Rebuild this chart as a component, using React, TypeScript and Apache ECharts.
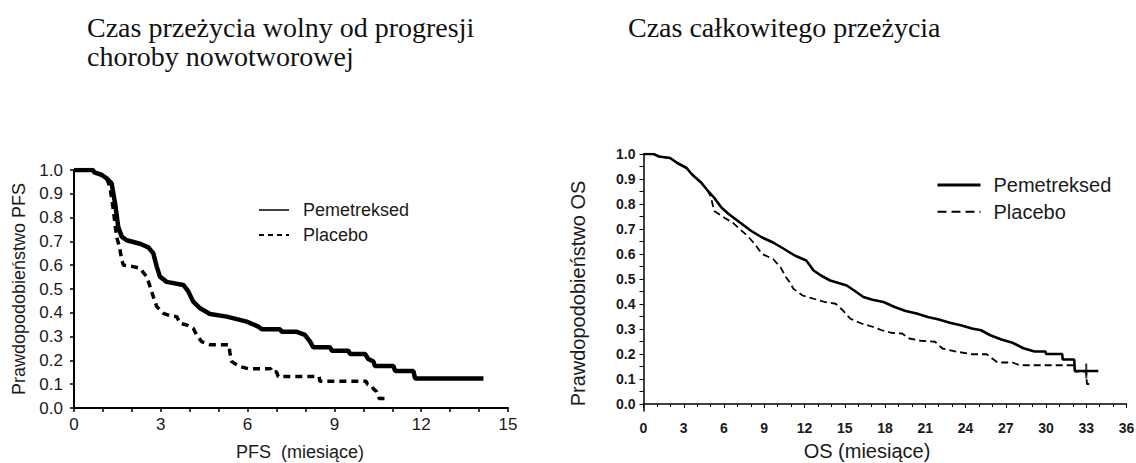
import React, { useEffect, useRef } from "react";
import * as echarts from "echarts";

// ---------- texts ----------
const pfsTitle = "Czas przeżycia wolny od progresji\nchoroby nowotworowej";
const osTitle = "Czas całkowitego przeżycia";
const pfsXName = "PFS  (miesiące)";
const osXName = "OS (miesiące)";
const pfsYName = "Prawdopodobieństwo PFS";
const osYName = "Prawdopodobieństwo OS";
const armNames = ["Pemetreksed", "Placebo"];

// ---------- tick values ----------
const probLabelValues = [0, 0.1, 0.2, 0.3, 0.4, 0.5, 0.6, 0.7, 0.8, 0.9, 1.0];
const probTickValues = [
  0, 0.05, 0.1, 0.15, 0.2, 0.25, 0.3, 0.35, 0.4, 0.45, 0.5, 0.55, 0.6, 0.65, 0.7, 0.75, 0.8,
  0.85, 0.9, 0.95, 1.0,
];

// ---------- PFS (months, probability) ----------
const pfsPemetreksed: [number, number][] = [
  [0, 1.0], [0.65, 1.0], [0.7, 0.99], [0.95, 0.98], [1.13, 0.965], [1.3, 0.944],
  [1.42, 0.86], [1.53, 0.76], [1.65, 0.72], [1.82, 0.705], [2.28, 0.69], [2.57, 0.675],
  [2.74, 0.65], [2.86, 0.594], [2.97, 0.552], [3.2, 0.53], [3.78, 0.517], [3.95, 0.49],
  [4.12, 0.447], [4.36, 0.419], [4.7, 0.395], [5.28, 0.384], [5.97, 0.363], [6.37, 0.342],
  [6.49, 0.331], [7.12, 0.331], [7.18, 0.32], [7.7, 0.32], [7.98, 0.307], [8.16, 0.279],
  [8.27, 0.255], [8.85, 0.255], [8.91, 0.241], [9.48, 0.241], [9.54, 0.227], [10.06, 0.227],
  [10.17, 0.206], [10.35, 0.195], [10.4, 0.176], [11.04, 0.176], [11.1, 0.155], [11.73, 0.155],
  [11.79, 0.124], [14.15, 0.124],
];

const pfsPlacebo: [number, number][] = [
  [0, 1.0], [0.65, 1.0], [0.7, 0.99], [0.95, 0.98], [1.13, 0.965], [1.24, 0.93],
  [1.36, 0.832], [1.47, 0.72], [1.57, 0.678], [1.65, 0.622], [1.71, 0.6], [1.94, 0.597],
  [2.28, 0.587], [2.51, 0.552], [2.63, 0.51], [2.74, 0.468], [2.86, 0.426], [3.09, 0.398],
  [3.32, 0.388], [3.55, 0.384], [3.66, 0.356], [3.9, 0.349], [4.12, 0.335], [4.24, 0.307],
  [4.41, 0.279], [4.7, 0.266], [5.35, 0.266], [5.39, 0.232], [5.45, 0.195], [5.74, 0.174],
  [6.03, 0.165], [6.8, 0.165], [6.83, 0.152], [7.0, 0.152], [7.06, 0.132], [8.47, 0.132],
  [8.5, 0.112], [10.1, 0.112], [10.14, 0.1], [10.3, 0.093], [10.35, 0.08], [10.45, 0.07],
  [10.55, 0.04], [10.8, 0.04],
];

// ---------- OS (months, probability) ----------
const osPemetreksed: [number, number][] = [
  [0, 1.0], [0.74, 1.0], [1.15, 0.99], [1.98, 0.984], [2.52, 0.964], [3.21, 0.944],
  [3.62, 0.918], [4.31, 0.885], [4.72, 0.858], [5.27, 0.825], [5.82, 0.785], [6.37, 0.759],
  [7.19, 0.726], [8.01, 0.693], [8.84, 0.666], [9.66, 0.646], [10.48, 0.62], [11.31, 0.593],
  [12.13, 0.574], [12.68, 0.534], [13.23, 0.514], [13.91, 0.494], [14.6, 0.483], [15.15, 0.474],
  [15.7, 0.454], [16.39, 0.428], [17.07, 0.417], [17.89, 0.408], [18.72, 0.388], [19.54, 0.372],
  [20.36, 0.362], [21.19, 0.348], [22.01, 0.338], [22.83, 0.325], [23.65, 0.315], [24.48, 0.302],
  [25.16, 0.295], [25.85, 0.275], [26.67, 0.258], [27.5, 0.245], [28.32, 0.223], [29.14, 0.21],
  [29.96, 0.21], [30.0, 0.2], [31.2, 0.2], [31.25, 0.178], [32.1, 0.178], [32.15, 0.132],
  [33.9, 0.132],
];

const osPlacebo: [number, number][] = [
  [0, 1.0], [0.74, 1.0], [1.15, 0.99], [1.98, 0.984], [2.52, 0.964], [3.21, 0.944],
  [3.62, 0.918], [4.31, 0.885], [4.72, 0.858], [5.0, 0.832], [5.27, 0.772], [6.09, 0.743],
  [6.64, 0.726], [7.19, 0.699], [7.74, 0.673], [8.29, 0.64], [8.84, 0.6], [9.66, 0.58],
  [10.21, 0.547], [10.62, 0.507], [10.9, 0.487], [11.17, 0.461], [11.86, 0.434], [12.68, 0.421],
  [13.51, 0.408], [14.32, 0.401], [14.87, 0.374], [15.42, 0.341], [16.25, 0.322], [17.07, 0.309],
  [17.76, 0.295], [18.44, 0.285], [19.27, 0.282], [19.81, 0.262], [20.64, 0.253], [21.73, 0.249],
  [22.28, 0.222], [23.38, 0.209], [24.48, 0.199], [25.58, 0.199], [25.99, 0.182], [26.4, 0.166],
  [27.5, 0.166], [28.04, 0.155], [32.1, 0.155], [32.15, 0.13], [33.0, 0.13], [33.05, 0.08],
  [33.5, 0.08],
];

const osCensor: [number, number][] = [[33.0, 0.132]];

const SANS = "Liberation Sans, Arial, sans-serif";
const SERIF = "Liberation Serif, Times New Roman, serif";
const INK = "#1a1a1a";

function buildOption(): echarts.EChartsOption {
  const stripPrefix = (n: string) => n.split(": ")[1] || n;
  const hiddenSymbol = { opacity: 0 };
  return {
    animation: false,
    backgroundColor: "#ffffff",
    title: [
      {
        text: pfsTitle,
        left: 82,
        top: 8,
        textStyle: { fontFamily: SERIF, fontSize: 28, fontWeight: "normal", color: "#111", lineHeight: 29 },
      },
      {
        text: osTitle,
        left: 623,
        top: 8,
        textStyle: { fontFamily: SERIF, fontSize: 28, fontWeight: "normal", color: "#111", lineHeight: 29 },
      },
    ],
    legend: [
      {
        orient: "vertical",
        left: 253,
        top: 195,
        itemWidth: 30,
        itemHeight: 14,
        itemGap: 5,
        formatter: stripPrefix,
        itemStyle: hiddenSymbol,
        textStyle: { fontFamily: SANS, fontSize: 18, color: INK, lineHeight: 20, padding: [0, 0, 0, 9] },
        data: [
          { name: "PFS: " + armNames[0], itemStyle: hiddenSymbol, lineStyle: { width: 1.5 } },
          { name: "PFS: " + armNames[1], itemStyle: hiddenSymbol, lineStyle: { width: 2, type: [5, 4] } },
        ],
      } as any,
      {
        orient: "vertical",
        left: 931,
        top: 170,
        itemWidth: 43,
        itemHeight: 14,
        itemGap: 6.7,
        formatter: stripPrefix,
        itemStyle: hiddenSymbol,
        textStyle: { fontFamily: SANS, fontSize: 20, color: INK, lineHeight: 20, padding: [0, 0, 0, 8] },
        data: [
          { name: "OS: " + armNames[0], itemStyle: hiddenSymbol, lineStyle: { width: 3 } },
          { name: "OS: " + armNames[1], itemStyle: hiddenSymbol, lineStyle: { width: 2, type: [9, 5] } },
        ],
      } as any,
    ],
    grid: [
      { left: 74, top: 170, width: 434, height: 238, outerBoundsMode: "none" } as any,
      { left: 643.5, top: 154, width: 483, height: 257, outerBoundsMode: "none" } as any,
    ],
    xAxis: [
      {
        type: "value",
        gridIndex: 0,
        min: 0,
        max: 15,
        interval: 3,
        name: pfsXName,
        nameLocation: "middle",
        nameGap: 35,
        nameTextStyle: { fontFamily: SANS, fontSize: 18, color: INK, padding: [0, 0, 0, 18] },
        axisLine: { lineStyle: { color: "#000", width: 2 } },
        axisTick: { show: true, length: 4, lineStyle: { color: "#000", width: 1.5 } },
        minorTick: { show: true, splitNumber: 3, length: 4, lineStyle: { color: "#000", width: 1.5 } },
        axisLabel: { fontFamily: SANS, fontSize: 17, color: INK, margin: 8 },
        splitLine: { show: false },
      },
      {
        type: "value",
        gridIndex: 1,
        min: 0,
        max: 36,
        interval: 3,
        name: osXName,
        nameLocation: "middle",
        nameGap: 30,
        nameTextStyle: { fontFamily: SANS, fontSize: 20, color: INK, padding: [0, 36, 0, 0] },
        axisLine: { lineStyle: { color: "#000", width: 1.5 } },
        axisTick: { show: true, length: 4, lineStyle: { color: "#000", width: 1 } },
        minorTick: { show: true, splitNumber: 3, length: 3, lineStyle: { color: "#000", width: 1 } },
        axisLabel: { fontFamily: SANS, fontSize: 14, fontWeight: "bold", color: INK, margin: 10 },
        splitLine: { show: false },
      },
    ],
    yAxis: [
      {
        type: "value",
        gridIndex: 0,
        min: 0,
        max: 1,
        interval: 0.1,
        name: pfsYName,
        nameLocation: "middle",
        nameGap: 46,
        nameTextStyle: { fontFamily: SANS, fontSize: 18, color: INK },
        axisLine: { show: true, lineStyle: { color: "#000", width: 2 } },
        axisTick: { show: true, length: 4, lineStyle: { color: "#000", width: 1.5 } },
        axisLabel: {
          fontFamily: SANS,
          fontSize: 17,
          color: INK,
          margin: 11,
          formatter: (v: number) => v.toFixed(1),
        },
        splitLine: { show: false },
      },
      {
        type: "value",
        gridIndex: 1,
        min: -0.028,
        max: 1,
        name: osYName,
        nameLocation: "middle",
        nameGap: 56,
        nameTextStyle: { fontFamily: SANS, fontSize: 20, color: INK, padding: [0, 22, 0, 0] },
        axisLine: { show: true, lineStyle: { color: "#000", width: 1.5 } },
        axisTick: {
          show: true,
          length: 4,
          customValues: probTickValues,
          lineStyle: { color: "#000", width: 1 },
        } as any,
        axisLabel: {
          fontFamily: SANS,
          fontSize: 14,
          fontWeight: "bold",
          color: INK,
          margin: 8,
          customValues: probLabelValues,
          formatter: (v: number) => v.toFixed(1),
        } as any,
        splitLine: { show: false },
      },
    ],
    series: [
      {
        name: "PFS: " + armNames[1],
        type: "line",
        xAxisIndex: 0,
        yAxisIndex: 0,
        data: pfsPlacebo,
        symbol: "none",
        showSymbol: false,
        lineStyle: { color: "#000", width: 3.5, type: [7, 5] },
        itemStyle: { color: "#000" },
      },
      {
        name: "PFS: " + armNames[0],
        type: "line",
        xAxisIndex: 0,
        yAxisIndex: 0,
        data: pfsPemetreksed,
        symbol: "none",
        showSymbol: false,
        lineStyle: { color: "#000", width: 4.5 },
        itemStyle: { color: "#000" },
      },
      {
        name: "OS: " + armNames[1],
        type: "line",
        xAxisIndex: 1,
        yAxisIndex: 1,
        data: osPlacebo,
        symbol: "none",
        showSymbol: false,
        lineStyle: { color: "#000", width: 1.8, type: [7, 4] },
        itemStyle: { color: "#000" },
      },
      {
        name: "OS: " + armNames[0],
        type: "line",
        xAxisIndex: 1,
        yAxisIndex: 1,
        data: osPemetreksed,
        symbol: "none",
        showSymbol: false,
        lineStyle: { color: "#000", width: 2.6 },
        itemStyle: { color: "#000" },
      },
      {
        name: "censor",
        type: "scatter",
        xAxisIndex: 1,
        yAxisIndex: 1,
        data: osCensor,
        symbol: "rect",
        symbolSize: [2, 15],
        itemStyle: { color: "#000" },
      },
    ],
  };
}

export default function App() {
  const ref = useRef<HTMLDivElement>(null);
  useEffect(() => {
    document.body.style.margin = "0";
    if (!ref.current) return;
    const chart = echarts.init(ref.current, undefined, { renderer: "svg" });
    chart.setOption(buildOption());
    return () => chart.dispose();
  }, []);
  return <div ref={ref} style={{ width: 1136, height: 463, position: "absolute", left: 0, top: 0 }} />;
}
